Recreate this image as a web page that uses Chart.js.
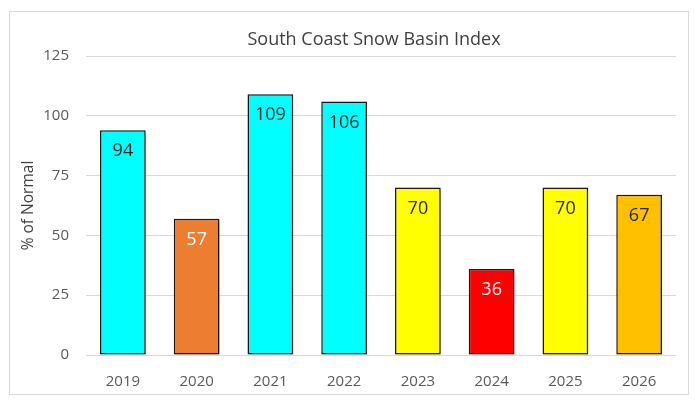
<!DOCTYPE html>
<html>
<head>
<meta charset="utf-8">
<script src="https://cdn.jsdelivr.net/npm/chart.js@4.4.1/dist/chart.umd.min.js"></script>
<style>
  html, body { margin: 0; padding: 0; background: #fff; }
  #wrap { position: relative; width: 700px; height: 404px; }
  #frame { position: absolute; left: 9px; top: 11px; width: 678px; height: 382px; border: 1px solid #d9d9d9; pointer-events: none; }
</style>
</head>
<body>
<div id="wrap">
  <canvas id="snowChart" width="700" height="404"></canvas>
  <div id="frame"></div>
</div>
<script>
// chart values
const years = ['2019', '2020', '2021', '2022', '2023', '2024', '2025', '2026'];
const percentOfNormal = [94, 57, 109, 106, 70, 36, 70, 67];
const barColors = ['#00FFFF', '#ED7D31', '#00FFFF', '#00FFFF', '#FFFF00', '#FF0000', '#FFFF00', '#FFC000'];
const labelColors = ['#262626', '#ffffff', '#262626', '#262626', '#262626', '#ffffff', '#262626', '#262626'];
const yTicks = [0, 25, 50, 75, 100, 125];
const chartTitle = 'South Coast Snow Basin Index';

const fontFamily = '"Open Sans", "Noto Sans", sans-serif';

// soft drop shadow on the bars, like the office chart
const barShadow = {
    id: 'barShadow',
    beforeDatasetsDraw(chart) {
        const ctx = chart.ctx;
        ctx.save();
        ctx.shadowColor = 'rgba(0,0,0,0.35)';
        ctx.shadowBlur = 4;
        ctx.shadowOffsetX = 2;
        ctx.shadowOffsetY = 2;
    },
    afterDatasetsDraw(chart) {
        chart.ctx.restore();
    }
};

// values written inside the top of each bar
const barValues = {
    id: 'barValues',
    afterDatasetsDraw(chart) {
        const ctx = chart.ctx;
        const meta = chart.getDatasetMeta(0);
        ctx.save();
        ctx.font = '18px ' + fontFamily;
        ctx.textAlign = 'center';
        ctx.textBaseline = 'middle';
        meta.data.forEach((bar, i) => {
            ctx.fillStyle = labelColors[i];
            ctx.fillText(String(percentOfNormal[i]), bar.x, bar.y + 21);
        });
        ctx.restore();
    }
};

// title over the plot area
const plotTitle = {
    id: 'plotTitle',
    afterDraw(chart) {
        const ctx = chart.ctx;
        ctx.save();
        ctx.font = '18px ' + fontFamily;
        ctx.fillStyle = '#404040';
        ctx.textAlign = 'center';
        ctx.textBaseline = 'middle';
        ctx.fillText(chartTitle, 374, 40);
        ctx.restore();
    }
};

const ctx = document.getElementById('snowChart').getContext('2d');
new Chart(ctx, {
    type: 'bar',
    data: {
        labels: years,
        datasets: [{
            label: '% of Normal',
            data: percentOfNormal,
            backgroundColor: barColors,
            borderColor: '#1a1a1a',
            borderWidth: 1.5,
            borderSkipped: false,
            barPercentage: 0.62,
            categoryPercentage: 1.0
        }]
    },
    options: {
        responsive: false,
        animation: false,
        layout: {
            padding: { left: 19, right: 24, top: 56, bottom: 13 }
        },
        plugins: {
            legend: { display: false },
            tooltip: { enabled: false }
        },
        scales: {
            x: {
                grid: { display: false },
                border: { display: false },
                ticks: {
                    color: '#595959',
                    font: { family: fontFamily, size: 15 },
                    padding: 10
                },
                afterFit(scale) { scale.height = 36; }
            },
            y: {
                min: 0,
                max: 125,
                afterBuildTicks(scale) {
                    scale.ticks = yTicks.map(v => ({ value: v }));
                },
                grid: { color: '#d9d9d9', lineWidth: 1, drawTicks: false },
                border: { display: false },
                ticks: {
                    color: '#595959',
                    font: { family: fontFamily, size: 15 },
                    padding: 17
                },
                title: {
                    display: true,
                    text: '% of Normal',
                    color: '#404040',
                    font: { family: fontFamily, size: 15.5 },
                    padding: { top: 0, bottom: 6 }
                },
                afterFit(scale) { scale.width = 67; }
            }
        }
    },
    plugins: [barShadow, barValues, plotTitle]
});
</script>
</body>
</html>
